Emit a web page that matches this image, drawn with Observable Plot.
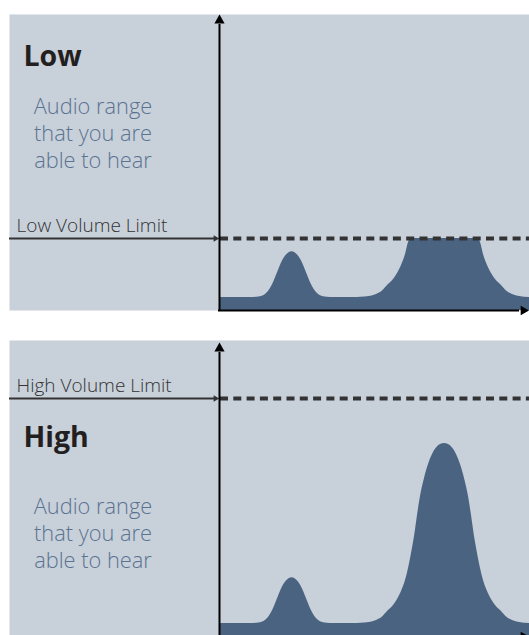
<!DOCTYPE html>
<html>
<head>
<meta charset="utf-8">
<script src="https://cdn.jsdelivr.net/npm/d3@7"></script>
<script src="https://cdn.jsdelivr.net/npm/@observablehq/plot@0.6"></script>
<style>
  html, body { margin: 0; padding: 0; background: #ffffff; }
  #chart svg { display: block; }
</style>
</head>
<body>
<div id="chart"></div>
<script>
// ---- data (frequency offset from the level axis, level above the x axis) ----
const freq  = [0, 20, 34.5, 39.5, 44.5, 48.5, 51.5, 54.5, 57.5, 60.5, 63.5, 66.5, 69.5, 72.5, 75.5, 78.5, 81.5, 84.5, 87.5, 90.5, 93.5, 96.5, 100.5, 105.5, 110.5,
               125, 135, 141, 150, 157, 163, 168, 174, 178, 182, 186, 189, 192, 195, 198, 201, 205, 209, 213, 217, 221, 225,
               229, 233, 237, 241, 245, 249, 252, 255, 258, 261, 264, 268, 272, 276, 282, 287, 293, 300, 310];
const level = [13, 13, 13, 13.5, 15, 18.5, 23, 29, 36.5, 44, 50.5, 55, 57.8, 58.7, 57.8, 55, 50.5, 44, 36.5, 29, 23, 18.5, 15, 13.5, 13,
               13, 13, 13.2, 14, 16, 19.5, 25, 31, 37, 45, 56, 68, 83, 100, 121, 140, 158, 172, 182, 188.5, 192, 193,
               192, 188.5, 182, 172, 158, 140, 121, 100, 83, 68, 56, 45, 37, 31, 25, 19.5, 16, 14, 13];

const panelTitles = ["Low", "High"];
const limitLabels = ["Low Volume Limit", "High Volume Limit"];
const limits = [72, 238];
const subtitle = "Audio range\nthat you are\nable to hear";

const signal = freq.map((f, i) => ({freq: f, level: level[i]}));

const bg = "#c8d0da";
const fill = "#4a6380";
const ink = "#333333";
const font = "Open Sans";

function panel(i, opts) {
  const limit = limits[i];
  const clip = i === 0;
  return Plot.plot({
    width: 529,
    height: opts.height,
    marginLeft: 9,
    marginRight: 0,
    marginTop: opts.marginTop,
    marginBottom: opts.marginBottom,
    style: {background: "transparent", overflow: "visible", fontFamily: font},
    x: {domain: [-210, 310], axis: null},
    y: {domain: opts.yDomain, axis: null},
    marks: [
      Plot.frame({fill: bg, stroke: "none"}),
      // signal
      Plot.areaY(signal, {
        x: "freq",
        y1: 0,
        y2: d => clip ? Math.min(d.level, limit) : d.level,
        curve: "monotone-x",
        fill: fill
      }),
      // limit dashed line
      Plot.ruleY([limit], {x1: 1, x2: 310, stroke: ink, strokeWidth: 4, strokeDasharray: "8,5.3"}),
      // limit arrow
      Plot.ruleY([limit], {x1: -210, x2: -4, stroke: ink, strokeWidth: 2}),
      Plot.dot([limit], {x: -4, y: d => d, symbol: "triangle", r: 2.4, rotate: 90, fill: ink, stroke: "none"}),
      Plot.text([limitLabels[i]], {x: -203, y: limit, dy: -7, text: d => d, textAnchor: "start", lineAnchor: "bottom", fontSize: 19, fontWeight: 300, fill: ink, fontFamily: font}),
      // axes
      Plot.ruleX([0], {y1: 0, y2: opts.yTip - 4, stroke: "#000", strokeWidth: 2}),
      Plot.dot([0], {x: 0, y: opts.yTip, symbol: "triangle", r: 3.8, fill: "#000", stroke: "none"}),
      Plot.ruleY([0], {x1: -1, x2: 300, stroke: "#000", strokeWidth: 2}),
      Plot.dot([0], {x: 304, y: 0, symbol: "triangle", r: 3.6, rotate: 90, fill: "#000", stroke: "none"}),
      // titles
      Plot.text([panelTitles[i]], {x: -196, y: opts.titleY, text: d => d, textAnchor: "start", lineAnchor: "bottom", fontSize: 28.5, fontWeight: "bold", fill: "#231f20", fontFamily: font}),
      Plot.text([subtitle], {x: -126.5, y: opts.subY, text: d => d, textAnchor: "middle", lineAnchor: "top", fontSize: 21.8, fontWeight: 300, lineHeight: 1.24, fill: "#5a7391", fontFamily: font})
    ]
  });
}

const chart = document.getElementById("chart");
chart.append(panel(0, {height: 320, marginTop: 14, marginBottom: 10, yDomain: [0, 296], yTip: 290, titleY: 245, subY: 215.5}));
chart.append(panel(1, {height: 315, marginTop: 20, marginBottom: 0, yDomain: [1, 296], yTip: 288, titleY: 190, subY: 141.5}));
</script>
</body>
</html>
